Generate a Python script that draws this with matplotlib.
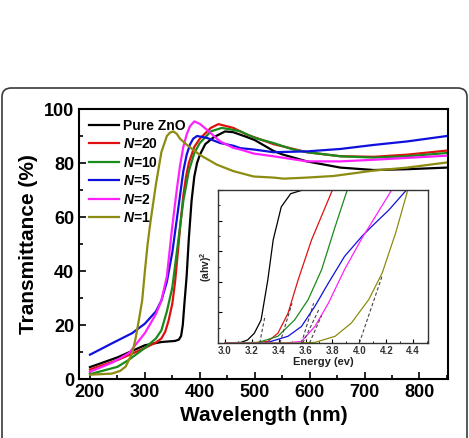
import numpy as np
import matplotlib
matplotlib.use("Agg")
import matplotlib.pyplot as plt
from matplotlib.patches import FancyBboxPatch
from matplotlib.ticker import MultipleLocator

plt.rcParams['font.family'] = ['Liberation Sans', 'DejaVu Sans']
plt.rcParams['font.weight'] = 'bold'
plt.rcParams['mathtext.fontset'] = 'custom'
plt.rcParams['mathtext.it'] = 'Liberation Sans:bold:italic'
plt.rcParams['mathtext.rm'] = 'Liberation Sans:bold'

## main spectra: wavelength (nm) / transmittance (%)
wl_zno = [200, 250, 300, 330, 355, 362, 366, 369, 372, 376, 380, 385, 390, 395, 400, 410, 425, 446, 461, 486, 500, 534, 550, 595, 656, 717, 778, 850]
t_zno = [4.4, 8, 12.5, 13.7, 14.1, 14.6, 16, 20, 28, 38, 52, 66, 75, 80, 83, 87, 89.5, 91.7, 91.4, 89.6, 88.5, 84.5, 83.2, 80.6, 78.3, 77.4, 77.7, 78.3]

wl_n20 = [200, 250, 300, 320, 330, 337, 343, 350, 355, 360, 365, 370, 375, 380, 390, 400, 420, 434, 461, 486, 534, 595, 656, 717, 778, 850]
t_n20 = [3.5, 7, 11.5, 13.5, 15, 17.5, 21.5, 28, 36, 47, 58, 68, 75, 80, 86, 89, 93, 94.4, 93, 90.5, 87, 84, 82.5, 82.3, 83.1, 84.6]

wl_n10 = [200, 250, 270, 300, 320, 330, 340, 350, 360, 370, 380, 390, 400, 420, 440, 460, 474, 500, 534, 570, 595, 656, 717, 778, 850]
t_n10 = [1.8, 4.5, 7, 11.5, 15, 18, 25, 34, 50, 66, 77, 83.7, 87.4, 91.7, 93, 92.3, 91.7, 89.3, 87.4, 85, 84, 82.5, 82, 82.5, 83.7]

wl_n5 = [200, 240, 277, 300, 320, 330, 340, 350, 360, 370, 376, 382, 388, 395, 413, 437, 461, 474, 498, 534, 595, 656, 717, 778, 850]
t_n5 = [9, 13.2, 17, 20.5, 25, 29, 36, 47, 62, 77, 83, 86.8, 89, 90, 89.3, 87.4, 86.4, 85.5, 85, 84, 84.3, 85.2, 86.7, 88, 90]

wl_n2 = [200, 240, 271, 300, 320, 330, 340, 349, 358, 364, 370, 376, 382, 390, 400, 413, 437, 461, 474, 498, 534, 595, 656, 717, 778, 850]
t_n2 = [2.7, 6, 9.6, 17, 24, 29, 38, 55, 70, 79, 86, 90.5, 93.6, 95.4, 94.5, 92.3, 88, 85.6, 85, 83.5, 82.5, 80.6, 80.6, 81.2, 81.9, 82.7]

wl_n1 = [200, 240, 255, 265, 277, 283, 289, 295, 300, 305, 310, 320, 330, 340, 346, 352, 358, 364, 376, 400, 431, 461, 498, 534, 553, 595, 644, 717, 778, 850]
t_n1 = [1.6, 2, 3, 4.6, 9.6, 15, 21.8, 29, 40, 50, 58, 72, 84, 90, 91.3, 91.7, 90.8, 89, 86.8, 83, 79.4, 77, 75, 74.6, 74.2, 74.6, 75.2, 77.2, 78.3, 80.2]

labels = ["Pure ZnO", "$N$=20", "$N$=10", "$N$=5", "$N$=2", "$N$=1"]
colors = ["black", "#e01010", "#1a8a1a", "#1010dd", "#ff20ff", "#8c8c10"]

## inset: Tauc plot, energy (eV) / (ahv)^2
e_zno = [3.0, 3.12, 3.17, 3.22, 3.27, 3.32, 3.36, 3.42, 3.49, 3.58]
a_zno = [0, 0.02, 0.1, 0.32, 0.75, 2.06, 3.37, 4.45, 4.88, 5.0]
e_n20 = [3.0, 3.2, 3.32, 3.395, 3.47, 3.545, 3.645, 3.80]
a_n20 = [0, 0.0, 0.05, 0.32, 0.97, 2.06, 3.37, 5.0]
e_n10 = [3.0, 3.25, 3.395, 3.52, 3.62, 3.72, 3.82, 3.91]
a_n10 = [0, 0.02, 0.22, 0.76, 1.42, 2.4, 3.8, 5.0]
e_n5 = [3.0, 3.25, 3.32, 3.47, 3.57, 3.67, 3.77, 3.89, 4.02, 4.09, 4.22, 4.35]
a_n5 = [0, 0.0, 0.02, 0.22, 0.54, 1.2, 1.96, 2.83, 3.49, 3.8, 4.35, 5.0]
e_n2 = [3.0, 3.45, 3.57, 3.67, 3.77, 3.89, 4.02, 4.12, 4.24]
a_n2 = [0, 0.0, 0.05, 0.54, 1.3, 2.4, 3.43, 4.14, 5.0]
e_n1 = [3.0, 3.55, 3.67, 3.82, 3.94, 4.07, 4.17, 4.27, 4.36]
a_n1 = [0, 0.0, 0.02, 0.22, 0.65, 1.42, 2.29, 3.6, 5.0]

# dashed tangent lines: intercept, end energy, end value
fit_x0 = [3.26, 3.41, 3.57, 3.58, 3.63, 4.00]
fit_x1 = [3.30, 3.50, 3.66, 3.70, 3.72, 4.17]
fit_y1 = [0.9, 1.3, 1.3, 1.1, 0.9, 2.2]

fig = plt.figure(figsize=(4.69, 4.38), dpi=100)

# rounded frame around the panel
frame = FancyBboxPatch((2 / 469, -0.05), 465 / 469, (438 - 88) / 438 + 0.05,
                       boxstyle="round,pad=0,rounding_size=0.02",
                       transform=fig.transFigure, fill=False,
                       edgecolor="#3a3a3a", linewidth=1.2)
fig.patches.append(frame)

ax = fig.add_axes([79 / 469, 1 - 379 / 438, 369 / 469, 270 / 438])
main = [(wl_zno, t_zno), (wl_n20, t_n20), (wl_n10, t_n10),
        (wl_n5, t_n5), (wl_n2, t_n2), (wl_n1, t_n1)]
for (x, y), c, lab in zip(main, colors, labels):
    ax.plot(x, y, color=c, lw=1.6, label=lab)

ax.set_xlim(180, 852)
ax.set_ylim(0, 100)
ax.xaxis.set_major_locator(MultipleLocator(100))
ax.xaxis.set_minor_locator(MultipleLocator(50))
ax.yaxis.set_major_locator(MultipleLocator(20))
ax.yaxis.set_minor_locator(MultipleLocator(10))
ax.tick_params(which='both', direction='in', top=False, right=False,
               labelsize=13, width=1.2)
ax.tick_params(which='major', length=5)
ax.tick_params(which='minor', length=3)
for s in ax.spines.values():
    s.set_linewidth(1.5)
ax.set_xlabel("Wavelength (nm)", fontsize=15, fontweight='bold', labelpad=4)
ax.set_ylabel("Transmittance (%)", fontsize=15, fontweight='bold', labelpad=4)
leg = ax.legend(loc='upper left', frameon=False, fontsize=10,
                handlelength=2.2, handletextpad=0.3, labelspacing=0.32,
                borderaxespad=0.3, bbox_to_anchor=(0.0, 1.0))
for t in leg.get_texts():
    t.set_fontweight('bold')

# inset
ins = fig.add_axes([218 / 469, 1 - 343 / 438, 210 / 469, 153 / 438])
tauc = [(e_zno, a_zno), (e_n20, a_n20), (e_n10, a_n10),
        (e_n5, a_n5), (e_n2, a_n2), (e_n1, a_n1)]
for (x, y), c in zip(tauc, colors):
    ins.plot(x, y, color=c, lw=0.9)
for x0, x1, y1 in zip(fit_x0, fit_x1, fit_y1):
    ins.plot([x0, x1], [0, y1], color="#444444", lw=0.8, ls=(0, (3, 2)))
ins.set_xlim(2.95, 4.51)
ins.set_ylim(0, 5)
ins.xaxis.set_major_locator(MultipleLocator(0.2))
ins.xaxis.set_minor_locator(MultipleLocator(0.1))
ins.yaxis.set_major_locator(MultipleLocator(1))
ins.yaxis.set_minor_locator(MultipleLocator(0.5))
ins.tick_params(which='both', direction='in', top=False, right=False,
                labelsize=7, labelcolor="#333333", labelleft=False, pad=2)
ins.tick_params(which='major', length=3)
ins.tick_params(which='minor', length=1.5)
ins.set_xticks([3.0, 3.2, 3.4, 3.6, 3.8, 4.0, 4.2, 4.4])
ins.set_xticklabels(["3.0", "3.2", "3.4", "3.6", "3.8", "4.0", "4.2", "4.4"])
for s in ins.spines.values():
    s.set_linewidth(1.0)
    s.set_color("#333333")
ins.set_xlabel("Energy (ev)", fontsize=8, fontweight='bold', color="#222222", labelpad=1)
ins.set_ylabel("(ahv)$^2$", fontsize=7.5, fontweight='bold', color="#222222", labelpad=3)

fig.savefig("out.png", dpi=100)
